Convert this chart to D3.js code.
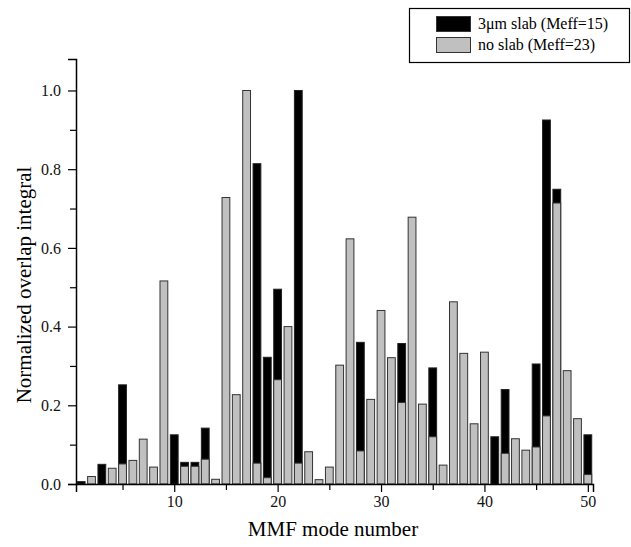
<!DOCTYPE html>
<html lang="en">
<head>
  <meta charset="UTF-8">
  <title>MMF mode overlap</title>
  <style>
    body { margin: 0; background: #fff; }
    svg text { font-family: "Liberation Serif", "Times New Roman", Times, serif; }
  </style>
</head>
<body>
  <div id="chart"></div>
  <script src="https://d3js.org/d3.v7.min.js"></script>
  <script>
    // mode numbers 1..50
    const modes = d3.range(1, 51);
    // 3um slab (Meff=15); 0 where hidden behind grey bar
    const slab = [0.006, 0, 0.05, 0, 0.252, 0, 0, 0, 0, 0.125,
                  0.055, 0.055, 0.142, 0, 0, 0, 0, 0.814, 0.322, 0.495,
                  0, 1.0, 0, 0, 0, 0, 0, 0.36, 0, 0,
                  0, 0.357, 0, 0, 0.295, 0, 0, 0, 0, 0,
                  0.12, 0.24, 0, 0, 0.305, 0.925, 0.749, 0, 0, 0.125];
    // no slab (Meff=23)
    const noSlab = [0, 0.019, 0, 0.04, 0.051, 0.06, 0.114, 0.043, 0.516, 0,
                    0.045, 0.045, 0.063, 0.012, 0.728, 0.227, 1.0, 0.053, 0.016, 0.265,
                    0.40, 0.053, 0.082, 0.011, 0.043, 0.302, 0.623, 0.084, 0.215, 0.441,
                    0.321, 0.207, 0.678, 0.203, 0.12, 0.048, 0.463, 0.332, 0.153, 0.335,
                    0, 0.078, 0.115, 0.086, 0.094, 0.173, 0.714, 0.288, 0.166, 0.024];
    const xTicks = [10, 20, 30, 40, 50];
    const yTicks = [0, 0.2, 0.4, 0.6, 0.8, 1.0];

    const width = 631, height = 547;
    const svg = d3.select('#chart').append('svg')
      .attr('width', width).attr('height', height);

    const x = d3.scaleLinear().domain([0.5, 50.5]).range([76, 593]);
    const y = d3.scaleLinear().domain([0, 1.08]).range([484, 59]);
    const bw = 7.8;

    // black bars behind, grey bars in front
    svg.append('g').selectAll('rect')
      .data(modes.filter((m, i) => slab[i] > 0))
      .join('rect')
      .attr('x', m => x(m) - bw / 2)
      .attr('y', m => y(slab[m - 1]))
      .attr('width', bw)
      .attr('height', m => y(0) - y(slab[m - 1]))
      .attr('fill', '#000')
      .attr('stroke', '#222')
      .attr('stroke-width', 1);

    svg.append('g').selectAll('rect')
      .data(modes.filter((m, i) => noSlab[i] > 0))
      .join('rect')
      .attr('x', m => x(m) - bw / 2)
      .attr('y', m => y(noSlab[m - 1]))
      .attr('width', bw)
      .attr('height', m => y(0) - y(noSlab[m - 1]))
      .attr('fill', '#c0c0c0')
      .attr('stroke', '#333')
      .attr('stroke-width', 1);

    // x axis
    const gx = svg.append('g').attr('transform', `translate(0,${y(0)})`);
    gx.call(d3.axisBottom(x).tickValues(xTicks).tickSize(8).tickPadding(4).tickFormat(d3.format('d')));
    gx.append('g').call(d3.axisBottom(x).tickValues([5, 15, 25, 35, 45]).tickSize(6).tickFormat(''))
      .select('.domain').remove();

    // y axis
    const gy = svg.append('g').attr('transform', `translate(${x(0.5)},0)`);
    gy.call(d3.axisLeft(y).tickValues(yTicks).tickSize(8).tickPadding(7).tickFormat(d3.format('.1f')));
    gy.append('g').call(d3.axisLeft(y).tickValues([0.1, 0.3, 0.5, 0.7, 0.9]).tickSize(6).tickFormat(''))
      .select('.domain').remove();

    svg.selectAll('.domain').attr('stroke', '#000').attr('stroke-width', 1.5);
    svg.selectAll('.tick line').attr('stroke', '#000').attr('stroke-width', 1.2);
    gx.attr('font-family', null);
    gy.attr('font-family', null);
    svg.selectAll('.tick text')
      .attr('font-size', 16)
      .attr('fill', '#111');

    // axis titles
    svg.append('text')
      .attr('x', 333).attr('y', 536)
      .attr('text-anchor', 'middle')
      .attr('font-size', 21)
      .text('MMF mode number');

    svg.append('text')
      .attr('transform', 'rotate(-90)')
      .attr('x', -285).attr('y', 31)
      .attr('text-anchor', 'middle')
      .attr('font-size', 21)
      .text('Normalized overlap integral');

    // legend
    const leg = svg.append('g');
    leg.append('rect')
      .attr('x', 409.5).attr('y', 8.5).attr('width', 220).attr('height', 54)
      .attr('fill', '#fff').attr('stroke', '#000').attr('stroke-width', 1.2);
    const items = [
      { label: '3\u03bcm slab (Meff=15)', fill: '#000' },
      { label: 'no slab (Meff=23)', fill: '#c0c0c0' }
    ];
    items.forEach((d, i) => {
      const yy = 16 + i * 21;
      leg.append('rect')
        .attr('x', 436.5).attr('y', yy + 0.5).attr('width', 34).attr('height', 15)
        .attr('fill', d.fill).attr('stroke', '#333').attr('stroke-width', 1);
      leg.append('text')
        .attr('x', 478).attr('y', yy + 13)
        .attr('font-size', 16)
        .text(d.label);
    });
  </script>
</body>
</html>
